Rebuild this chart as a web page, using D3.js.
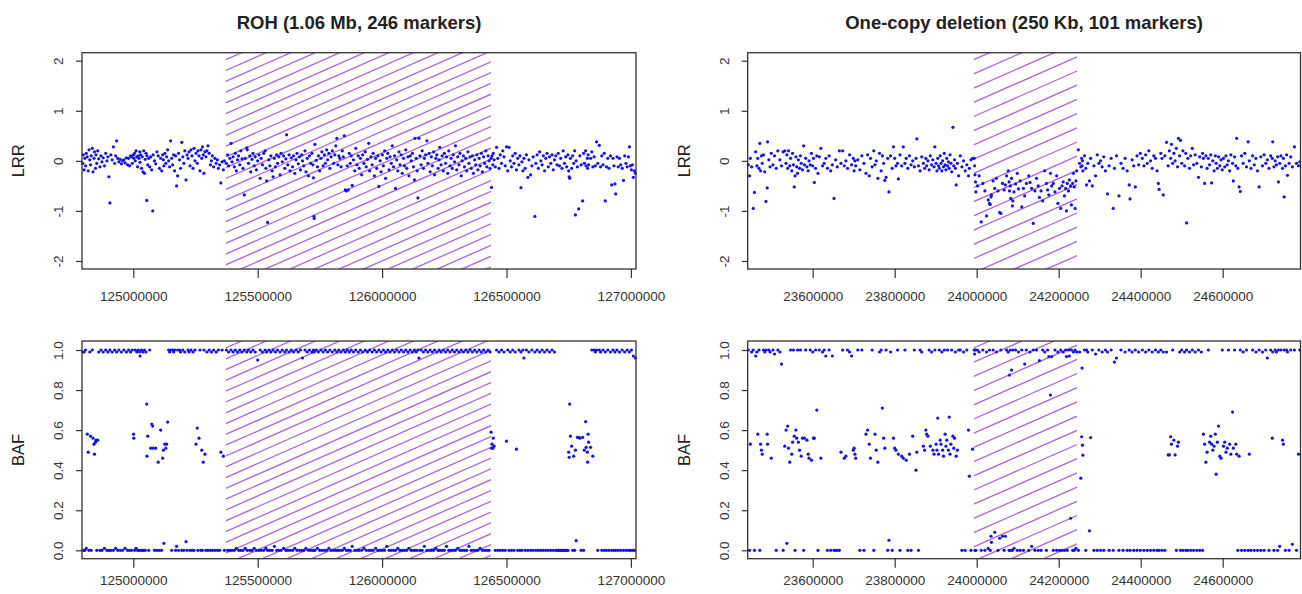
<!DOCTYPE html>
<html>
<head>
<meta charset="utf-8">
<script src="https://cdn.jsdelivr.net/npm/d3@7"></script>
<style>
  body { margin: 0; background: #fff; }
  svg { display: block; }
  text { font-family: "Liberation Sans", Arial, Helvetica, sans-serif; }
</style>
</head>
<body>
<svg id="chart" width="1302" height="594"></svg>
<script>
// Marker tuples: [position (kb), log R ratio, B allele frequency]
const rohMarkers = [
  [124797,-0.05,0.99],[124799,0.12,0],[124802,-0.18,0.99],[124805,0.05,0],[124808,-0.1,1],[124811,0.15,0.01],
  [124815,0.08,0.58],[124819,-0.2,0.49],[124822,0.22,0],[124825,0.02,0.99],[124828,-0.08,0.57],[124831,0.1,0],
  [124835,0.25,1],[124838,-0.22,0.56],[124842,0.05,0.53],[124844,0.18,0.48],[124848,-0.15,0.54],[124850,0.12,0.55],
  [124853,-0.05,0],[124857,0.2,0.55],[124861,0.04,0.99],[124866,-0.12,0],[124870,0.1,1],
  [124874,-0.02,0],[124879,0.06,0.99],[124884,-0.1,0.01],[124889,0.15,1],[124894,0,0],[124898,0.08,0.99],
  [124902,-0.32,0],[124906,-0.84,1],[124910,0.12,0],[124915,0.02,0.99],[124920,0.28,0],[124925,-0.05,1],
  [124929,0.1,0.01],[124933,0.4,0.99],[124937,0.05,0],[124942,-0.02,1],[124947,0.03,0],[124952,-0.06,0.99],[124957,0,0],
  [124962,0.02,1],[124967,-0.04,0.01],[124972,0.06,0.99],[124977,-0.08,0],[124981,0.05,1],[124985,-0.1,0],
  [124989,0.1,0.99],[124993,0.08,0],[124996,-0.05,1],[125001,0.12,0.58],[125002,0.05,0.56],[125005,0.15,0],
  [125008,0,1],[125011,0.2,0.01],[125014,0.08,0.99],[125017,-0.12,0],[125020,0.1,1],[125023,0.05,0],
  [125026,0.18,0.99],[125027,-0.03,0.97],[125030,0.12,0],[125033,-0.15,1],[125036,0.08,0],[125039,-0.22,0.99],
  [125042,0.2,0],[125045,-0.25,1],[125048,0.03,0],[125051,0.15,0.99],[125054,-0.79,0.73],[125055,0.1,0.47],[125058,-0.08,0.57],
  [125062,0.05,0],[125066,-0.12,1],[125070,0.08,0.51],[125074,-0.18,0.63],[125078,-1,0.62],[125080,0.12,0.51],
  [125085,0,0],[125090,-0.06,0.51],[125095,0.18,0],[125100,0.1,0.44],[125105,-0.15,0],[125110,0.05,0.6],
  [125114,-0.2,0],[125118,0.12,0.46],[125121,0.02,0.5],[125123,-0.1,0.035],[125127,0.15,0.53],[125131,-0.05,0.51],
  [125134,0.08,0.53],[125138,0.22,0.64],
  [125142,0,1],[125146,-0.12,0.99],[125150,0.4,1],[125154,0.05,0],[125158,-0.08,1],[125162,0.12,0.99],
  [125166,-0.2,1],[125170,0.1,0],[125174,-0.5,0.02],[125178,-0.3,1],[125182,0.15,0],[125186,0.02,1],
  [125190,-0.15,0.99],[125195,0.37,0],[125199,0.08,1],[125203,-0.05,0],[125207,0.2,0.99],[125212,-0.38,0.043],
  [125216,0.12,0],[125220,0.05,1],[125224,0.18,0.99],[125228,-0.1,0],[125232,0.22,1],[125236,0.1,0],
  [125240,-0.15,0.99],[125244,0.25,0],[125248,0,1],
  [125252,0.15,0.53],[125257,-0.05,0.61],[125260,0.2,0],[125264,0.1,0.56],[125268,-0.2,1],[125272,0.22,0],
  [125275,0.05,0.5],[125278,0.28,0],[125281,0.12,0.44],[125284,-0.25,1],[125288,0.18,0.48],[125292,0.08,0],
  [125296,0.2,0.99],[125300,0.3,0],[125305,0.15,1],[125310,-0.08,0],[125314,0,0.99],[125318,0.1,0],
  [125323,-0.12,1],[125328,0.05,0],[125333,-0.05,0.99],[125338,0.02,0],[125342,-0.15,1],[125347,-0.08,0],
  [125352,-0.44,0.49],[125357,-0.02,1],[125362,-0.18,0.47],[125366,0,0],
  [125374,-0.05,1],[125379,0.12,0],[125383,-0.1,0.99],[125388,0.05,0],[125393,0.35,1],[125397,-0.02,0],
  [125401,0.08,0.99],[125406,-0.12,0],[125410,0.15,1],[125414,-0.2,0.01],[125419,0.02,0.99],[125423,0.1,0],
  [125428,-0.08,1],[125432,0.2,0],[125437,0.04,0.99],[125441,-0.15,0],[125446,-0.68,1],[125450,0.05,0.01],
  [125456,0.26,0.99],[125458,0.22,0],[125463,-0.05,1],[125468,0.1,0],[125472,-0.22,0.99],[125477,0.03,0],
  [125481,0.15,1],[125486,-0.1,0.01],[125490,0.08,0.99],[125495,-0.18,0],[125500,0,0.95],[125505,0.12,0],
  [125510,-0.35,1],[125514,0.05,0],[125519,-0.08,0.99],[125524,0.15,0],[125530,0.2,1],[125533,-0.15,0.01],
  [125536,-0.4,0.99],[125540,-1.23,0],[125545,0.02,1],[125549,-0.1,0],[125553,0.1,0.99],[125558,-0.2,0],
  [125562,-0.32,1],[125567,0.05,0.02],[125571,-0.12,0.99],[125576,0.12,0],[125580,-0.05,1],[125585,0.08,0],
  [125590,-0.28,0.99],[125594,0.15,0],[125599,-0.02,1],[125604,0.1,0.01],[125609,-0.15,0.99],[125613,0.04,0],
  [125616,0.52,1],[125621,-0.08,0],[125626,0.12,0.99],[125630,-0.2,0],[125635,0.06,1],[125640,-0.12,0],
  [125644,0.1,0.99],[125649,-0.25,0.01],[125654,0.02,1],[125658,0.15,0],[125663,-0.06,0.99],[125668,0.08,0],
  [125672,-0.18,1],[125677,0.12,0],[125680,0,0.96],[125685,-0.1,0],[125690,0.2,1],[125694,-0.22,0.01],
  [125699,0.05,0.99],[125704,-0.3,0],[125708,0.1,1],[125713,-0.05,0],[125718,0.15,0.99],[125722,-0.08,0],
  [125724,-0.34,1],[125726,-1.11,0],[125727,-1.15,0.99],[125730,0.33,0],[125735,0.01,1],[125740,-0.12,0.01],
  [125744,0.1,0.99],[125749,-0.2,0],[125754,0.05,1],[125758,0.18,0],[125763,-0.1,0.99],[125768,0.12,0],
  [125772,-0.05,1],[125777,0.22,0],[125781,0.02,0.99],[125786,0.15,0.01],[125790,-0.15,1],[125795,0.08,0],
  [125800,0.2,0.99],[125805,-0.05,0],[125810,0.12,1],[125814,0.3,0],[125818,0.45,0.99],[125822,-0.08,0],
  [125826,0.1,1],[125830,0.05,0],[125835,-0.12,0.99],[125840,0.2,0],[125844,0.08,1],[125848,0.5,0.01],
  [125852,-0.58,0.99],[125856,-0.6,0],[125860,-0.1,1],[125864,-0.58,0],[125868,0.15,0.99],[125872,-0.05,0],
  [125876,0.1,1],[125880,-0.49,0.02],[125885,0.02,0.99],[125890,-0.2,0],[125894,0.25,1],[125899,-0.08,0],
  [125904,0.1,0.99],[125908,-0.15,0],[125913,0.05,1],[125918,-0.28,0],[125922,0.12,0.99],[125927,-0.05,0.01],
  [125932,0.18,1],[125936,-0.12,0],[125941,0.03,0.99],[125946,0.35,0],[125950,-0.2,1],[125955,0.08,0],
  [125960,-0.08,0.99],[125964,0.15,0],[125969,-0.3,1],[125974,0.05,0.01],[125978,-0.15,0.99],[125983,0.1,0],
  [125987,-0.51,1],[125992,0,0],[125996,-0.22,0.99],[126001,0.12,0],[126005,-0.1,1],[126010,0.2,0],
  [126014,-0.35,0.99],[126019,0.05,0.02],[126023,0.15,1],[126028,-0.18,0],[126032,0.08,0.99],[126037,-0.05,0],
  [126041,0.3,1],[126046,-0.12,0],[126050,0.1,0.99],[126054,-0.55,0],[126059,0.02,1],[126063,-0.2,0.01],
  [126068,0.18,0.99],[126072,-0.08,0],[126077,0.12,1],[126081,-0.25,0],[126086,0.05,0.99],[126090,-0.1,0],
  [126095,0.22,1],[126099,-0.15,0],[126104,0.08,0.99],[126108,-0.3,0.01],[126113,0.1,1],[126117,0,0],
  [126122,0.15,0.99],[126126,-0.12,0],[126130,-0.38,1],[126132,0.45,0],[126137,0.05,0.99],[126141,-0.2,0],
  [126144,-0.74,1],[126148,0.45,0.96],[126152,0.1,0],[126157,-0.08,1],[126161,0.2,0],[126166,-0.15,0.99],
  [126170,0.05,0.02],[126175,0.12,1],[126180,0.4,0],[126184,-0.05,0.99],[126189,0.15,0],[126193,-0.22,1],
  [126198,0.08,0],[126202,-0.1,0.99],[126207,0.18,0],[126211,-0.28,1],[126216,0.05,0.01],[126220,0.12,0.99],
  [126225,-0.15,0],[126229,0.02,1],[126232,0.27,0],[126237,-0.08,0.99],[126241,0.1,0],[126246,-0.2,1],
  [126250,0.15,0],[126255,-0.05,0.99],[126259,0.08,0.02],[126264,-0.25,1],[126268,0.2,0],[126273,-0.1,0.99],
  [126277,0.05,0],[126282,-0.15,1],[126286,0.12,0],[126291,-0.02,0.99],[126295,0.3,0],[126300,-0.18,1],
  [126304,0.08,0.01],[126309,-0.08,0.99],[126313,0.15,0],[126318,-0.3,1],[126322,0,0],[126327,0.1,0.99],
  [126331,-0.12,0],[126336,0.05,1],[126340,-0.2,0],[126345,0.18,0.99],[126349,-0.05,0.02],[126354,0.08,1],
  [126358,-0.15,0],[126363,0.1,0.99],[126367,-0.25,0],[126372,0.02,1],[126376,-0.08,0],[126381,0.12,0.99],
  [126385,-0.18,0],[126390,0.05,1],[126394,-0.1,0.01],[126399,0.15,0.99],[126403,-0.22,0],[126408,0.08,1],
  [126412,-0.05,0],[126417,0.2,0.99],[126421,-0.12,0],[126426,0.1,1],[126430,0,0],[126434,-0.15,0.99],
  [126438,0.05,0.59],[126440,-0.53,0.51],[126442,0.1,0.53],[126445,-0.08,0.51],[126447,0.15,0.56],[126450,0.02,0.52],
  [126455,-0.12,0],[126460,0.27,1],[126465,0.05,0],[126470,-0.15,0.99],[126475,0.12,0],[126480,-0.05,1],
  [126485,0.2,0],[126490,0.08,0.99],[126495,-0.1,0],[126500,0.28,0.545],[126505,-0.2,1],[126510,0.27,0],
  [126515,0,0.99],[126520,-0.12,0],[126525,0.1,1],[126530,-0.05,0],[126535,0.15,0.99],[126540,-0.18,0.505],
  [126545,0.05,0],[126550,-0.08,1],[126554,0.1,0],[126558,-0.535,0.99],[126562,-0.02,0],[126566,-0.2,1],
  [126570,0.05,0.96],[126575,-0.15,0],[126580,0.12,1],[126586,-0.33,0],[126590,0.02,0.99],[126597,-0.28,0],
  [126602,-0.1,1],[126607,0.08,0],[126614,-1.11,0.99],[126618,-0.05,0],[126623,0.12,1],[126628,-0.15,0],
  [126633,0.18,0.99],[126638,0,0],[126643,-0.08,1],[126648,0.1,0],[126653,-0.2,0.99],[126658,0.05,0],
  [126663,0.15,1],[126668,-0.12,0],[126673,0.08,0.99],[126678,-0.05,0],[126683,0.12,1],[126688,-0.18,0],
  [126693,0.02,0.99],[126698,0.1,0],[126703,-0.08,0],[126708,0.15,0],[126713,-0.1,0],[126718,0.05,0],
  [126723,-0.15,0],[126728,0.2,0],[126733,-0.05,0],[126738,0.08,0],[126742,-0.12,0],[126747,0.12,0],
  [126750,-0.2,0.49],[126752,-0.32,0.464],[126754,-0.35,0.73],[126757,0.05,0.57],[126762,-0.15,0.52],[126766,0.1,0],
  [126770,-0.05,0.47],[126774,0.2,0],[126777,-1.08,0.5],[126780,0,0.048],[126785,-0.12,0.564],[126790,-0.96,0.564],
  [126795,0.1,0.56],[126800,-0.08,0],[126806,-0.8,0.564],[126810,0.15,0],[126813,-0.05,0.5],[126818,0.2,0.642],
  [126820,-0.1,0.514],[126825,0.05,0.49],[126826,-0.15,0.44],[126828,0.12,0.58],[126830,-0.08,0.54],[126838,0.05,0.514],
  [126843,0.18,1],[126847,-0.12,0.47],[126852,0.08,1],[126857,-0.1,0.99],[126862,0.38,1],[126867,-0.05,0],
  [126873,0.31,1],[126878,-0.12,0.99],[126883,0.1,0],[126888,-0.08,1],[126893,0.15,0],[126897,-0.8,0.99],
  [126902,-0.12,0],[126907,0.05,1],[126912,-0.15,0],[126918,0.1,0.99],[126923,-0.48,0],[126928,0.05,1],
  [126932,-0.1,0],[126936,-0.46,0.99],[126939,-0.66,0],[126944,0.08,1],[126949,-0.12,0],[126954,0.05,0.99],
  [126959,-0.08,0],[126965,-0.15,1],[126970,-0.39,0],[126975,0.1,0.99],[126980,-0.05,0],[126985,-0.12,1],
  [126990,0.08,0],[126994,0.28,0.99],[126998,-0.1,0],[127002,-0.18,1],[127006,-0.08,0],[127010,-0.33,0.97],
  [127014,-0.2,0],[127018,-0.25,0.96]
];

const delMarkers = [
  [23443,-0.08,1],[23446,-0.3,0],[23448,0.05,0.53],[23451,-0.12,0.99],[23455,-0.95,1],[23458,-0.63,0],
  [23461,0.18,0.97],[23464,-0.1,0.99],[23466,0.05,0.58],[23469,-0.15,1],[23471,0.35,0],[23473,-0.2,0.53],
  [23475,0.1,0.5],[23477,-0.05,0.48],[23480,0.12,1],[23483,-0.22,0.99],[23486,-0.81,1],[23489,-0.54,0.58],
  [23490,0.38,0.53],[23493,0.02,1],[23496,-0.12,0.99],[23499,0.15,0.46],[23503,-0.08,1],[23507,0.1,0.98],
  [23511,-0.15,0],[23515,0.2,1],[23520,0.02,0.99],[23524,-0.1,0.93],[23528,0.18,0],
  [23532,0.2,0.52],[23535,-0.05,0.6],[23537,0.12,0.035],[23539,-0.15,0.62],[23541,0.2,0.51],[23544,-0.1,0.44],
  [23546,0.05,1],[23549,-0.2,0.48],[23551,0.15,0.54],[23553,-0.08,1],[23555,-0.52,0.57],[23557,-0.3,0],
  [23559,0.08,0.6],[23561,-0.12,0.56],[23563,-0.25,1],[23565,0.02,0.54],[23568,-0.15,0.5],[23570,0.1,1],
  [23572,-0.05,0.47],[23575,-0.18,0.56],[23578,0.3,0],[23580,-0.08,0.56],[23583,0.05,1],[23586,-0.12,0.55],
  [23589,-0.2,0.48],[23591,0,0.46],[23594,-0.08,1],[23597,0.15,0.45],[23600,-0.1,0.99],[23602,0.05,0.56],
  [23604,-0.43,0.56],[23607,-0.15,1],[23610,0.1,0.7],[23613,-0.25,0],[23616,0.08,1],[23620,0.25,0.46],
  [23624,-0.1,0.99],[23628,-0.05,1],
  [23632,0.05,0.97],[23636,-0.15,0],[23640,0.1,1],[23644,-0.2,0],[23648,-0.08,0.97],[23652,-0.75,0],
  [23656,0.02,0],[23660,-0.12,0],[23665,0.2,0],[23669,-0.05,0.49],[23673,0.2,1],[23677,-0.1,0.46],
  [23681,0,0.47],[23685,-0.15,1],[23690,0.12,0.99],[23695,-0.08,0.97],[23699,0.05,0.5],[23701,-0.2,0.51],
  [23703,0,0.48],[23705,-0.1,0.46],
  [23710,0.02,1],[23715,-0.18,0],[23720,0.1,1],[23725,-0.05,0],[23730,-0.25,0.58],[23734,0.12,0.6],
  [23738,-0.3,0.53],[23741,0.05,0.46],[23745,-0.12,1],[23749,0.2,0],[23752,-0.08,0.58],[23755,0,0.5],
  [23759,-0.35,0.44],[23763,0.15,0.99],[23767,-0.2,1],[23770,0.1,0.71],[23773,-0.05,0.56],[23776,-0.39,0.51],
  [23779,-0.33,1],[23783,0.05,0],[23786,-0.62,0.05],[23790,0.1,0.99],[23794,-0.15,0],[23797,0.28,0.56],
  [23800,0.05,0.51],[23803,-0.1,0.5],
  [23807,-0.05,1],[23809,-0.36,0.48],[23813,0.12,0],[23817,-0.1,0.47],[23821,0.28,0.46],[23825,-0.05,1],
  [23828,0.05,0.45],[23832,-0.15,0],[23836,0.1,0.48],[23840,-0.08,0],[23844,0,0.57],[23848,-0.12,1],
  [23852,0.05,0.4],[23854,0.44,0.49],[23858,-0.1,0],[23862,-0.2,1],[23866,0.08,0.99],[23870,-0.05,0.52],
  [23873,-0.15,0.5],[23876,0.05,0.6],[23878,-0.1,0.58],[23881,0,0.57],[23884,-0.18,1],[23887,0.1,0.52],
  [23890,-0.08,0.99],[23893,0.02,0.5],[23896,-0.12,0.48],[23898,0.28,1],
  [23901,-0.05,0.53],[23903,-0.2,0.5],[23905,0.05,0.66],[23907,-0.1,0.48],[23909,-0.15,1],[23911,0.1,0.55],
  [23913,-0.05,0.53],[23915,-0.2,0.99],[23917,0,0.5],[23919,-0.12,0.47],[23921,0.15,1],[23923,-0.08,0.58],
  [23925,-0.18,0.52],[23927,0.05,0.55],[23929,-0.1,1],[23931,-0.02,0.5],[23933,-0.15,0.665],[23935,0.12,0.48],
  [23937,-0.05,0.53],[23939,-0.22,1],[23942,0.67,0.57],[23944,-0.1,0.51],[23946,0.02,0.56],[23948,-0.15,0.99],
  [23950,-0.48,0.47],[23953,-0.05,0.5],[23956,-0.3,1],[23960,0.1,1],[23964,-0.12,0],[23968,0,0.99],
  [23972,-0.2,0],[23976,-0.08,1],[23980,-0.3,0.6],[23982,-0.15,0.37],[23986,0.02,0],[23990,0.05,0.505],
  [23994,0.05,1],[23995,-0.1,0.98],[23996,-0.28,0],[23997,-0.42,1],[23998,-0.62,0],[24002,-0.5,1],
  [24006,-0.3,0.99],[24011,-1.22,0],[24015,-0.45,1],[24020,-0.6,0],[24024,-1.1,0.99],[24028,-0.78,0.01],
  [24031,-0.85,1],[24033,-0.87,0],[24035,-0.72,0.07],[24036,-0.68,0.04],[24040,-0.4,1],[24044,-0.55,0.09],
  [24048,-0.35,0.99],[24052,-0.6,0],[24056,-1.03,0.06],[24059,-1.05,1],[24063,-0.45,0.07],[24067,-0.58,0],
  [24070,-0.48,0.07],[24073,-0.3,1],[24077,-0.2,0.99],[24079,-0.42,0],[24080,-0.6,0.875],[24082,-0.5,1],
  [24083,-0.75,0],[24085,-0.35,0.9],[24087,-0.9,0],[24088,-0.8,1],[24091,-0.62,0.01],[24095,-0.46,1],
  [24099,-0.25,0],[24102,-0.56,0.99],[24106,-0.4,0],[24110,-0.92,1],[24114,-0.55,0],[24117,-0.7,0.93],
  [24121,-0.45,1],[24127,-0.3,0],[24130,-0.43,0.99],[24134,-0.55,0.02],[24138,-1.25,1],[24142,-0.6,0],
  [24146,-0.35,1],[24150,-0.5,0],[24153,-0.73,0.947],[24157,-0.6,0],[24161,-0.8,1],[24166,-0.2,0.99],
  [24170,-0.45,0],[24173,-0.58,1],[24176,-0.68,0.967],[24180,-0.25,0.775],[24183,-0.5,0.967],[24187,-0.45,0],
  [24191,-0.62,1],[24195,-0.3,0],[24198,-0.85,0.99],[24202,-0.55,0],[24205,-0.95,1],[24208,-0.5,0],
  [24211,-0.42,0.99],[24214,-0.7,0],[24217,-0.55,1],[24219,-1,0.967],[24221,-0.45,0],[24224,-0.6,1],
  [24226,-0.38,0.97],[24229,-0.5,0.16],[24231,-0.88,1],[24234,-0.45,0],[24236,-0.25,0.99],[24238,-0.52,0],
  [24240,-0.95,1],[24242,-0.4,0.01],[24244,-0.2,0.99],
  [24248,0.22,0],[24251,-0.05,0.99],[24254,-0.12,0.36],[24256,0.05,0.567],[24257,-0.1,0.91],[24258,0,0.525],
  [24259,-0.2,0.475],[24263,0.1,1],[24266,-0.15,0],[24268,-0.48,1],[24271,-0.05,0.99],[24275,-0.4,0.097],
  [24278,0.05,0.563],[24282,-0.5,1],[24286,-0.1,0],[24290,-0.3,0.98],[24294,0.12,0],[24298,-0.05,1],
  [24302,0,0],[24306,-0.12,0.99],[24310,0.08,0],[24314,-0.2,1],[24319,-0.66,0.99],[24323,-0.1,0],
  [24328,0.05,1],[24333,-0.95,0],[24336,-0.15,0.94],[24341,0.1,0.96],[24347,-0.7,0],[24352,-0.05,1],
  [24357,-0.15,0],[24362,0.05,0.99],[24367,-0.2,0],[24372,-0.48,1],[24374,-0.76,0],[24379,0.02,0.99],
  [24383,-0.1,0],[24387,-0.52,1],[24391,0.1,0],[24395,-0.08,0.99],[24399,0.15,0],
  [24404,0.05,1],[24408,-0.1,0],[24412,0.12,0.99],[24416,-0.05,0],[24420,0.2,1],[24424,0,0],
  [24428,-0.15,0.99],[24432,0.1,0],[24436,0.05,1],[24440,-0.2,0],[24443,-0.45,0.99],[24445,-0.57,0],
  [24449,0.15,1],[24452,0.05,0],[24455,-0.68,0.99],[24459,0.1,0],[24463,0.37,0.99],[24467,-0.1,0.476],
  [24470,0.2,0.476],[24473,0.05,0.567],[24475,0.33,0.53],[24478,-0.05,1],[24481,0.15,0.55],[24484,0,0.476],
  [24487,0.25,0],[24490,-0.12,0.52],[24492,0.45,0.54],[24495,0.1,0.99],[24497,0.41,0],[24500,-0.05,1],
  [24503,0.2,0],[24507,-0.1,0.99],[24510,0.15,0],[24512,-1.24,1],[24515,0.05,0],[24519,-0.15,0.99],
  [24522,0.1,0],[24526,0.25,1],[24529,-0.08,0],[24533,0.12,0.99],[24537,-0.05,0],[24541,-0.33,1],
  [24544,0.08,0],[24548,-0.12,0.99],[24551,0.15,0],[24553,0.05,0.58],[24556,-0.45,0.53],[24559,0.1,0.44],
  [24562,-0.15,0.49],[24565,0.05,1],[24568,-0.08,0.54],[24571,0.12,0.57],[24573,-0.44,0.53],[24576,0,0.5],
  [24579,-0.2,0.52],[24582,0.1,0.58],[24584,-0.05,0.38],[24587,-0.15,0.54],[24590,0.08,0.62],[24593,-0.1,0.47],
  [24596,0.02,0.46],[24599,-0.18,1],
  [24602,0.05,0.52],[24605,-0.12,0.54],[24608,0.1,0.49],[24611,-0.08,0.51],[24614,0,1],[24617,-0.2,0.53],
  [24620,0.12,0.48],[24624,-0.05,0.69],[24626,-0.4,0.51],[24629,0.08,1],[24632,-0.1,0.53],[24634,0.45,0.48],
  [24637,-0.15,0],[24640,-0.52,0.47],[24643,-0.61,1],[24646,0.1,0],[24650,-0.05,0.99],[24654,0.15,0],
  [24658,-0.12,1],[24662,0.38,0],[24665,0,0.48],[24669,-0.15,0],[24673,0.1,1],[24677,-0.08,0],
  [24681,0.05,0.99],[24685,-0.2,0],[24689,-0.52,1],[24693,0.08,0],[24697,-0.1,0.99],[24701,0.12,0],
  [24705,-0.05,1],[24709,0.02,0.96],[24713,-0.15,0],[24717,0.1,1],[24721,0.05,0.56],[24722,0.38,0.99],
  [24725,-0.12,0],[24728,0,1],[24731,-0.08,0.99],[24734,0.08,0],[24736,-0.42,1],[24739,-0.05,0.02],
  [24742,0.1,1],[24746,-0.15,0.55],[24748,0.05,0.53],[24750,-0.72,1],[24753,-0.1,0],[24756,0.12,1],
  [24758,-0.29,0.99],[24762,-0.05,0],[24766,0.08,1],[24770,-0.12,0.03],[24775,0.28,1],[24780,-0.05,0],
  [24785,-0.1,0.48],[24788,-0.02,1]
];

// Region titles, called segments (kb) and axis settings
const rohTitle = "ROH (1.06 Mb, 246 markers)";
const delTitle = "One-copy deletion (250 Kb, 101 markers)";
const rohSegmentKb = [125371.4, 126437.7];
const delSegmentKb = [23992.7, 24244.9];
const rohXLimits = [124793800, 127020500];
const delXLimits = [23441500, 24789800];
const rohXTicks = [125000000, 125500000, 126000000, 126500000, 127000000];
const delXTicks = [23600000, 23800000, 24000000, 24200000, 24400000, 24600000];
const lrrLimits = [-2.16, 2.16];
const bafLimits = [-0.042, 1.045];
const lrrTicks = [-2, -1, 0, 1, 2];
const bafTicks = [0, 0.2, 0.4, 0.6, 0.8, 1.0];

const svg = d3.select("#chart");
const ink = "#333";
const dotColor = "#1212e8";
const hatchColor = "#a352d8";

const columns = [
  { markers: rohMarkers, title: rohTitle, segment: rohSegmentKb, xLimits: rohXLimits, xTicks: rohXTicks,
    left: 82, right: 636, hatchGap: 10.8 },
  { markers: delMarkers, title: delTitle, segment: delSegmentKb, xLimits: delXLimits, xTicks: delXTicks,
    left: 747.7, right: 1300.5, hatchGap: 14.2 }
];
const rows = [
  { key: 1, label: "LRR", limits: lrrLimits, ticks: lrrTicks, fmt: d => String(d),
    top: 52.7, bottom: 269, xPad: 13 },
  { key: 2, label: "BAF", limits: bafLimits, ticks: bafTicks, fmt: d => d.toFixed(1),
    top: 341, bottom: 558.7, xPad: 8 }
];

const hatchSlope = 0.44;
let clipCount = 0;

columns.forEach(col => {
  const x = d3.scaleLinear().domain(col.xLimits).range([col.left, col.right]);

  svg.append("text")
    .attr("x", (col.left + col.right) / 2)
    .attr("y", 28.5)
    .attr("text-anchor", "middle")
    .attr("font-size", 18.5)
    .attr("font-weight", "bold")
    .attr("fill", "#222")
    .text(col.title);

  rows.forEach(row => {
    const y = d3.scaleLinear().domain(row.limits).range([row.bottom, row.top]);
    const g = svg.append("g");

    // hatched band over the called segment
    const hx0 = x(col.segment[0] * 1000), hx1 = x(col.segment[1] * 1000);
    const clipId = "hatch-clip-" + (clipCount++);
    g.append("clipPath").attr("id", clipId)
      .append("rect")
      .attr("x", hx0).attr("y", row.top)
      .attr("width", hx1 - hx0).attr("height", row.bottom - row.top);
    const rise = hatchSlope * (hx1 - hx0);
    const starts = d3.range(row.top + 7, row.bottom + rise + col.hatchGap, col.hatchGap);
    g.append("g").attr("clip-path", `url(#${clipId})`)
      .selectAll("line").data(starts).join("line")
      .attr("x1", hx0).attr("y1", d => d)
      .attr("x2", hx1).attr("y2", d => d - rise)
      .attr("stroke", hatchColor)
      .attr("stroke-width", 1.3)
      .attr("stroke-opacity", 0.9);

    // markers
    g.append("g").selectAll("circle").data(col.markers).join("circle")
      .attr("cx", d => x(d[0] * 1000))
      .attr("cy", d => y(d[row.key]))
      .attr("r", 1.6)
      .attr("fill", dotColor);

    // frame
    g.append("rect")
      .attr("x", col.left).attr("y", row.top)
      .attr("width", col.right - col.left).attr("height", row.bottom - row.top)
      .attr("fill", "none").attr("stroke", ink).attr("stroke-width", 1.3);

    // x axis
    const xa = g.append("g")
      .attr("transform", `translate(0,${row.bottom})`)
      .call(d3.axisBottom(x).tickValues(col.xTicks).tickFormat(d => String(d))
        .tickSize(9).tickPadding(row.xPad));
    xa.select(".domain").remove();
    xa.selectAll(".tick line").attr("stroke", ink).attr("stroke-width", 1.2);
    xa.selectAll(".tick text").attr("fill", ink).attr("font-size", 13.5)
      .attr("font-family", "'Liberation Sans', Arial, Helvetica, sans-serif");

    // y axis with labels parallel to the axis
    const ya = g.append("g")
      .attr("transform", `translate(${col.left},0)`)
      .call(d3.axisLeft(y).tickValues(row.ticks).tickFormat(row.fmt).tickSize(6));
    ya.select(".domain").remove();
    ya.selectAll(".tick line").attr("stroke", ink).attr("stroke-width", 1.2);
    ya.selectAll(".tick text")
      .attr("fill", ink).attr("font-size", 13.5)
      .attr("font-family", "'Liberation Sans', Arial, Helvetica, sans-serif")
      .attr("text-anchor", "middle")
      .attr("transform", "rotate(-90)")
      .attr("x", 0).attr("y", -19).attr("dy", null);

    // axis title
    g.append("text")
      .attr("transform", `translate(${col.left - 58},${(row.top + row.bottom) / 2}) rotate(-90)`)
      .attr("text-anchor", "middle")
      .attr("font-size", 16.5)
      .attr("fill", "#222")
      .text(row.label);
  });
});
</script>
</body>
</html>
